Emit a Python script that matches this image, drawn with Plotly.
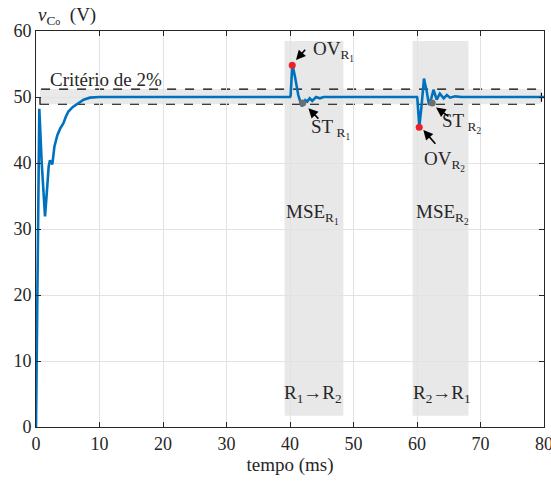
import plotly.graph_objects as go

# ---- data ----
t_ms = [0, 0.25, 0.52, 0.9, 1.2, 1.42, 1.7, 2.0, 2.2, 2.57, 2.9, 3.36, 3.8, 4.3, 4.7, 5.1, 5.8, 6.67, 7.5, 8.5, 10.0, 15, 20, 30,
        40.0, 40.1, 40.37, 40.8, 41.3, 41.84, 42.1, 42.4, 42.7, 43.1, 43.5, 44.1, 44.7, 45.3, 46.0, 50, 55,
        60.0, 60.05, 60.37, 60.7, 61.1, 61.5, 61.9, 62.25, 62.6, 63.1, 63.6, 64.2, 64.7, 65.2, 66.0, 67.0, 70, 75, 80]
v_co = [0, 30, 48.2, 40, 34.5, 31.9, 35.5, 39.5, 40.4, 39.8, 42.5, 44.2, 45.2, 46.0, 47.0, 47.8, 48.5, 49.1, 49.6, 49.9, 50.0, 50.0, 50.0, 50.0,
        50.0, 50.2, 55.0, 53.0, 50.3, 48.6, 48.9, 49.5, 49.3, 49.8, 49.4, 50.0, 49.8, 50.0, 50.0, 50.0, 50.0,
        50.0, 49.8, 45.5, 48.5, 52.8, 51.0, 48.8, 49.8, 51.1, 49.6, 50.5, 49.8, 50.3, 49.9, 50.1, 50.0, 50.0, 50.0, 50.0]

ov_t = [40.35, 60.35]
ov_v = [54.8, 45.4]
st_t = [42.0, 62.4]
st_v = [49.1, 49.1]

mse_x0 = [39.15, 59.3]
mse_x1 = [48.4, 68.1]
mse_y0 = 1.7
mse_y1 = 58.5
band_lo, band_hi = 48.9, 51.2
band_t0, band_t1 = 0.63, 79.6

x_ticks = [0, 10, 20, 30, 40, 50, 60, 70, 80]
y_ticks = [0, 10, 20, 30, 40, 50, 60]

FONT = "Liberation Serif"
INK = "#262626"

fig = go.Figure()

fig.add_trace(go.Scatter(x=t_ms, y=v_co, mode="lines",
                         line=dict(color="#0072BD", width=2.6), showlegend=False))
fig.add_trace(go.Scatter(x=ov_t, y=ov_v, mode="markers",
                         marker=dict(color="#e8212b", size=7), showlegend=False))
fig.add_trace(go.Scatter(x=st_t, y=st_v, mode="markers",
                         marker=dict(color="#6e6e6e", size=7), showlegend=False))

shapes = []
for a, b in zip(mse_x0, mse_x1):
    shapes.append(dict(type="rect", xref="x", yref="y", x0=a, x1=b, y0=mse_y0, y1=mse_y1,
                       fillcolor="#e8e8e8", line=dict(width=0), layer="below"))
shapes.append(dict(type="rect", xref="x", yref="y", x0=band_t0, x1=band_t1, y0=band_lo, y1=band_hi,
                   fillcolor="rgba(228,228,228,0.8)", line=dict(color="black", width=1.2, dash="dash"),
                   layer="below"))

ann = []
def txt(x, y, s, size=19, xanchor="center"):
    ann.append(dict(x=x, y=y, xref="x", yref="y", text=s, showarrow=False,
                    font=dict(family=FONT, size=size, color=INK), xanchor=xanchor))

def arrow(x, y, ax, ay):
    ann.append(dict(x=x, y=y, ax=ax, ay=ay, xref="x", yref="y", axref="x", ayref="y",
                    text="", showarrow=True, arrowhead=2, arrowsize=1.2, arrowwidth=1.6,
                    arrowcolor="black"))

txt(1.9, 52.6, "Critério de 2%", xanchor="left")
txt(46.8, 57.0, "OV<sub>R<sub>1</sub></sub>")
arrow(40.94, 55.6, 42.6, 57.4)
txt(46.4, 45.2, "ST<sub> R<sub>1</sub></sub>")
arrow(42.9, 48.3, 44.7, 46.5)
txt(67.0, 46.0, "ST<sub> R<sub>2</sub></sub>")
arrow(63.0, 48.4, 65.2, 46.9)
txt(64.3, 40.3, "OV<sub>R<sub>2</sub></sub>")
arrow(61.0, 45.0, 63.1, 42.7)
txt(43.6, 32.2, "MSE<sub>R<sub>1</sub></sub>")
txt(64.0, 32.2, "MSE<sub>R<sub>2</sub></sub>")
txt(43.6, 5.0, "R<sub>1</sub>→R<sub>2</sub>")
txt(64.0, 5.0, "R<sub>2</sub>→R<sub>1</sub>")

ann.append(dict(x=0.0, y=1.0, xref="paper", yref="paper", xanchor="left", yanchor="bottom",
                yshift=1, showarrow=False,
                text="<i>v</i><sub>C<span style='font-size:10px'>o</span></sub>  (V)",
                font=dict(family=FONT, size=19, color=INK)))

axis_common = dict(showline=True, linecolor=INK, linewidth=1, mirror="ticks",
                   ticks="inside", ticklen=5, tickcolor=INK, showgrid=True,
                   gridcolor="#e2e2e2", gridwidth=1, zeroline=False, automargin=False,
                   ticklabeloverflow="allow",
                   tickfont=dict(family=FONT, size=18, color=INK))

fig.update_layout(
    width=551, height=481,
    margin=dict(l=36, r=7, t=31, b=54),
    paper_bgcolor="white", plot_bgcolor="white",
    shapes=shapes, annotations=ann,
    xaxis=dict(range=[0, 80], tickvals=x_ticks,
               title=dict(text="tempo (ms)", font=dict(family=FONT, size=19, color=INK), standoff=0),
               **axis_common),
    yaxis=dict(range=[0, 60], tickvals=y_ticks, **axis_common),
)

fig.write_html("out.html", config={"displayModeBar": False},
               post_script="document.body.style.margin='0px';document.body.style.padding='0px';")
